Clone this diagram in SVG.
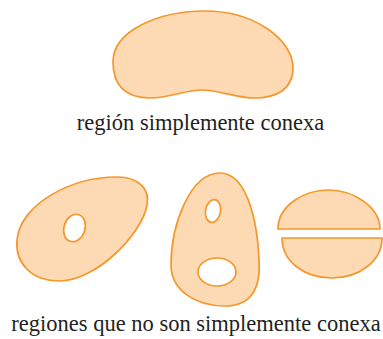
<svg xmlns="http://www.w3.org/2000/svg" width="383" height="339" viewBox="0 0 383 339">
<style>
.r{fill:#FDDAB3;stroke:#F5972A;stroke-width:1.7;stroke-linejoin:round}
.h{fill:#FFFFFF;stroke:#F5972A;stroke-width:1.7}
.t{font-size:22.5px;fill:#231F20;text-anchor:middle}
</style>
<rect width="383" height="339" fill="#FFFFFF"/>
<g id="simple">
<path class="r" d="M113,62 C113,30 160,11 205,11 C255,11 293,40 293,68 C293,90 275,98 255,98 C235,98 220,90 202,90 C185,90 170,98 150,98 C125,98 113,85 113,62 Z"/>
</g>
<g id="label-simple"><text class="t" font-family="'Liberation Serif', 'Times New Roman', 'DejaVu Serif', serif" x="200.5" y="130">región simplemente conexa</text></g>
<g id="oval-one-hole">
<path class="r" d="M117,177 C140,177 150,190 147,205 C142,235 95,281 60,281 C30,281 15,262 17,240 C20,205 70,177 117,177 Z"/>
<ellipse class="h" cx="74.5" cy="228" rx="10.5" ry="14" transform="rotate(18 74.5 228)"/>
</g>
<g id="egg-two-holes">
<path class="r" d="M220,173 C245,173 257,215 259,260 C261,290 250,306 225,306 C195,306 171,290 171,265 C171,225 190,173 220,173 Z"/>
<ellipse class="h" cx="213" cy="211" rx="7.5" ry="11.5" transform="rotate(10 213 211)"/>
<ellipse class="h" cx="217" cy="272" rx="19" ry="14"/>
</g>
<g id="split-disc">
<path class="r" d="M278,229 C278,205 305,190 328,190 C355,190 380,208 380,229 Z"/>
<path class="r" d="M282,238 L382,238 C382,262 358,278 332,278 C305,278 282,262 282,238 Z"/>
</g>
<g id="connectors"></g>
<g id="label-non-simple"><text class="t" font-family="'Liberation Serif', 'Times New Roman', 'DejaVu Serif', serif" x="196" y="331">regiones que no son simplemente conexa</text></g>
</svg>
